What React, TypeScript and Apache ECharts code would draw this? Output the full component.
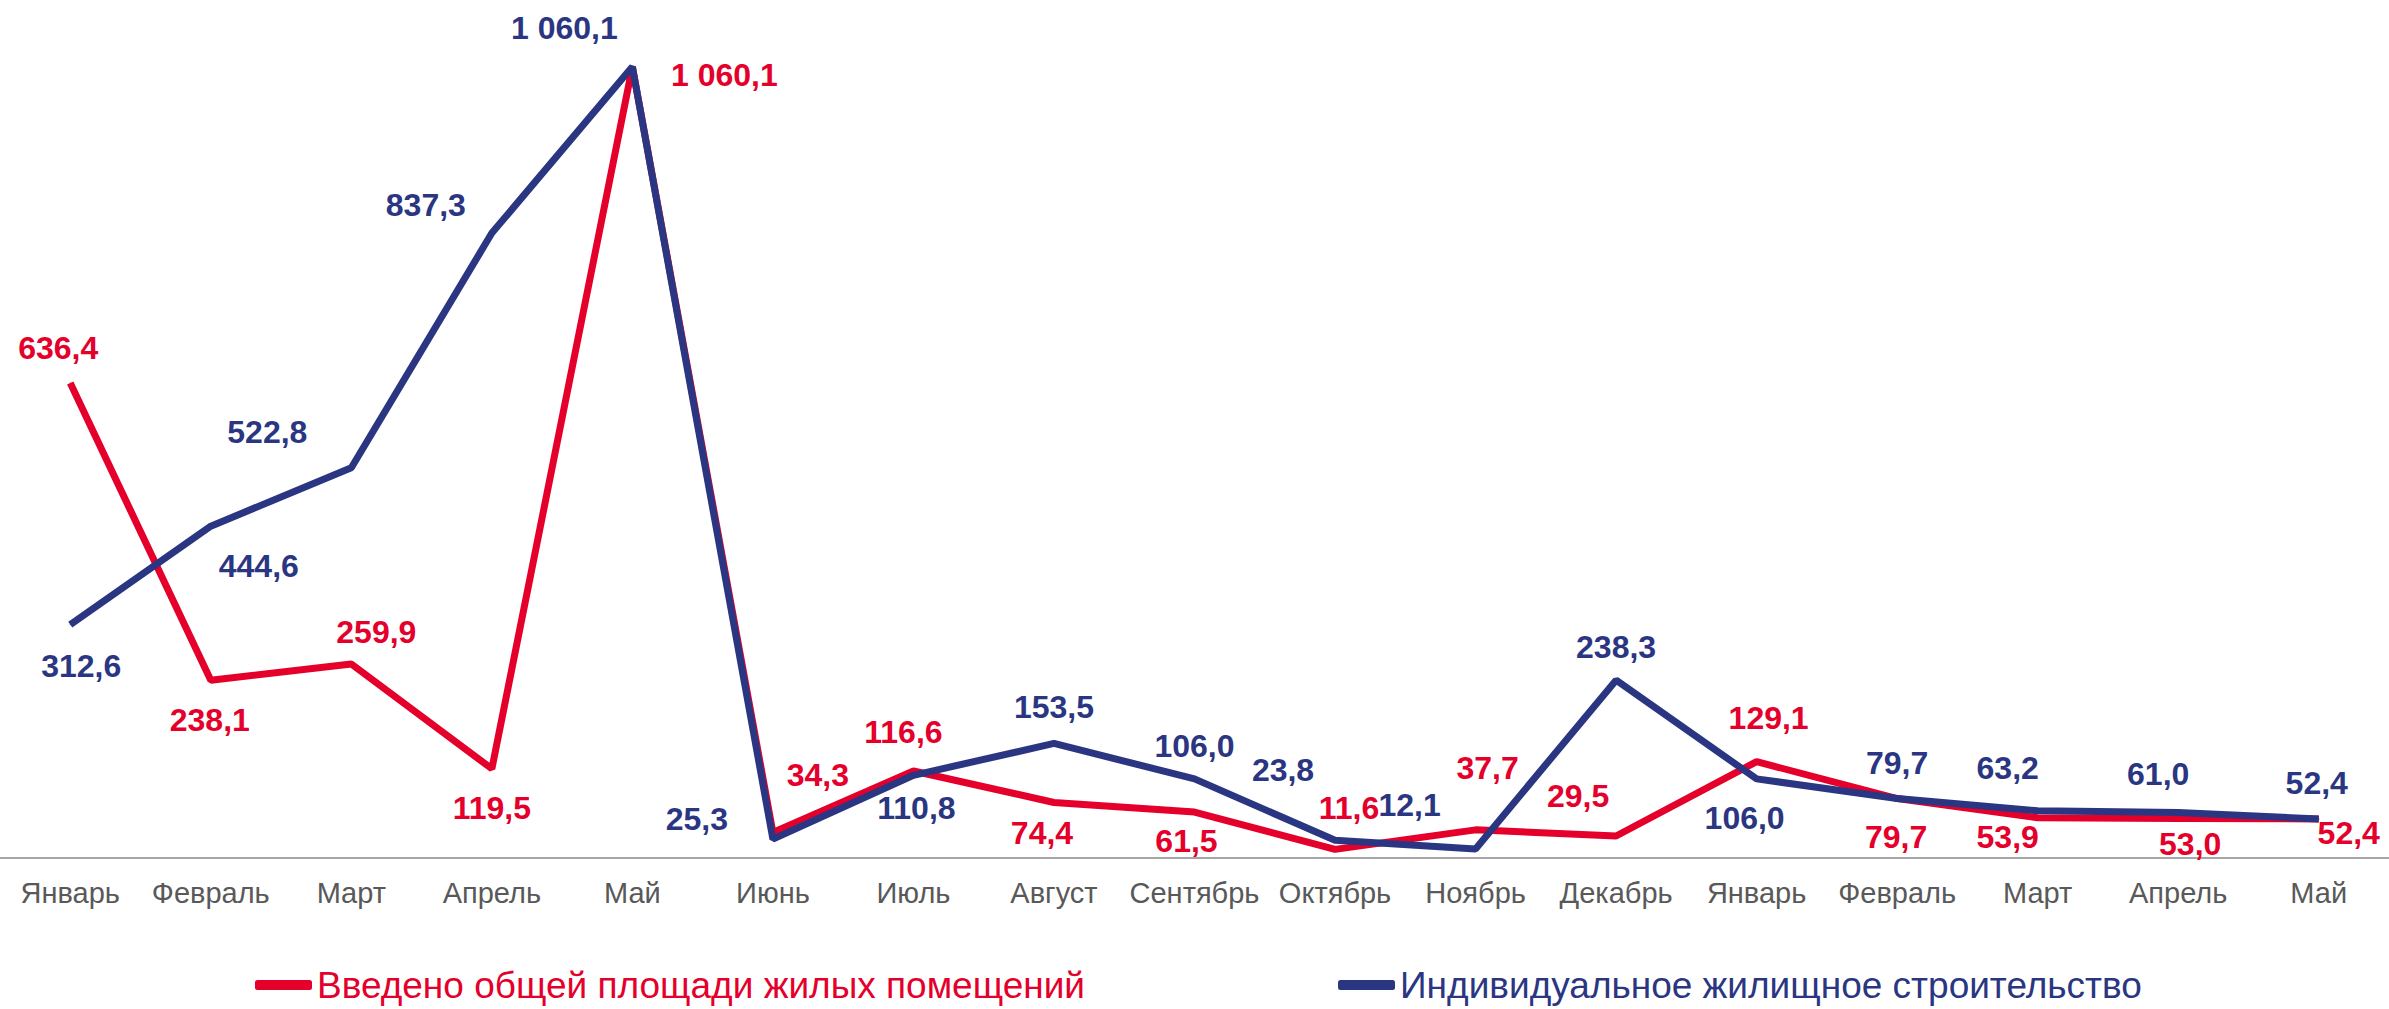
import React, { useEffect, useRef } from "react";
import * as echarts from "echarts";

const categories = [
  "Январь", "Февраль", "Март", "Апрель", "Май", "Июнь", "Июль", "Август",
  "Сентябрь", "Октябрь", "Ноябрь", "Декабрь", "Январь", "Февраль", "Март", "Апрель", "Май",
];

const seriesNames = [
  "Введено общей площади жилых помещений",
  "Индивидуальное жилищное строительство",
];

const totalArea = [636.4, 238.1, 259.9, 119.5, 1060.1, 34.3, 116.6, 74.4, 61.5, 11.6, 37.7, 29.5, 129.1, 79.7, 53.9, 53.0, 52.4];
const individual = [312.6, 444.6, 522.8, 837.3, 1060.1, 25.3, 110.8, 153.5, 106.0, 23.8, 12.1, 238.3, 106.0, 79.7, 63.2, 61.0, 52.4];

// label offsets (label centre relative to the point), styling only
const redOffsets: number[][] = [
  [-12, -35], [-1, 40], [25, -32], [0, 39], [92, 8], [45, -57], [-10, -39], [-12, 31], [-8, 29],
  [14, -41], [12, -62], [-38, -40], [12, -44], [-1, 38], [-30, 19], [12, 26], [30, 14],
];
const blueOffsets: number[][] = [
  [11, 41], [48, 40], [-84, -36], [-66, -28], [-68, -39], [-76, -20], [3, 33], [0, -36], [0, -33],
  [-52, -70], [-66, -44], [0, -33], [-12, 39], [0, -36], [-30, -43], [-20, -38], [-2, -36],
];

const RED = "#E4002B";
const BLUE = "#2B3682";

const fmt = (v: number) => {
  const s = v.toFixed(1).replace(".", ",");
  const [ip, dp] = s.split(",");
  const withSpace = ip.replace(/\B(?=(\d{3})+(?!\d))/g, " ");
  return withSpace + "," + dp;
};

const makeData = (vals: number[], offs: number[][]) =>
  vals.map((v, i) => ({ value: v, label: { offset: offs[i] } }));

export default function App() {
  const ref = useRef<HTMLDivElement>(null);
  useEffect(() => {
    if (!ref.current) return;
    const chart = echarts.init(ref.current, undefined, { renderer: "svg" });
    const labelBase = (color: string) => ({
      show: true,
      position: "inside" as const,
      color,
      fontFamily: "Liberation Sans, Arial, sans-serif",
      fontWeight: "bold" as const,
      fontSize: 32,
      formatter: (p: any) => fmt(p.value as number),
    });
    chart.setOption({
      animation: false,
      backgroundColor: "#ffffff",
      grid: { left: -5, right: -3, top: 37, bottom: 151, containLabel: false },
      legend: {
        left: 250,
        top: 961,
        itemWidth: 57,
        itemHeight: 10,
        itemGap: 253,
        icon: "roundRect",
        textStyle: { fontFamily: "Liberation Sans, Arial, sans-serif", fontSize: 37, lineHeight: 38 },
        data: [
          { name: seriesNames[0], textStyle: { color: RED } },
          { name: seriesNames[1], textStyle: { color: BLUE } },
        ],
      },
      xAxis: {
        type: "category",
        data: categories,
        boundaryGap: true,
        axisLine: { show: true, lineStyle: { color: "#A6A6A6", width: 2 } },
        axisTick: { show: false },
        axisLabel: {
          color: "#595959",
          fontFamily: "Liberation Sans, Arial, sans-serif",
          fontSize: 29,
          margin: 20,
          interval: 0,
        },
        splitLine: { show: false },
      },
      yAxis: {
        type: "value",
        min: 0,
        max: 1100,
        show: false,
        splitLine: { show: false },
      },
      series: [
        {
          name: seriesNames[0],
          type: "line",
          data: makeData(totalArea, redOffsets),
          symbol: "circle",
          symbolSize: 1,
          itemStyle: { color: RED },
          lineStyle: { color: RED, width: 7 },
          label: labelBase(RED),
          z: 2,
        },
        {
          name: seriesNames[1],
          type: "line",
          data: makeData(individual, blueOffsets),
          symbol: "circle",
          symbolSize: 1,
          itemStyle: { color: BLUE },
          lineStyle: { color: BLUE, width: 7 },
          label: labelBase(BLUE),
          z: 3,
        },
      ],
    });
    return () => chart.dispose();
  }, []);
  return (
    <div
      ref={ref}
      style={{ position: "fixed", left: 0, top: 0, width: 2389, height: 1009, background: "#fff" }}
    />
  );
}
